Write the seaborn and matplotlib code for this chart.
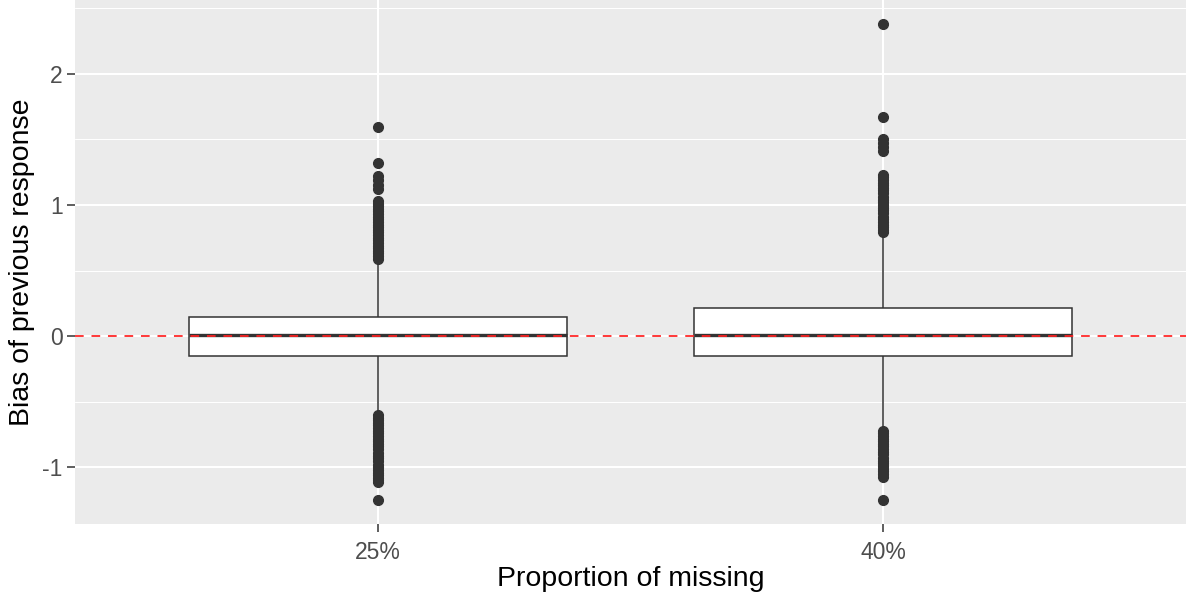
import numpy as np
import pandas as pd
import matplotlib
matplotlib.use("Agg")
import matplotlib.pyplot as plt
from matplotlib.ticker import MultipleLocator, FuncFormatter
import seaborn as sns

# ---- data ----
categories = ["25%", "40%"]
q1 = [-0.152, -0.155]
median = [0.008, 0.005]
q3 = [0.143, 0.215]
whisker_low = [-0.590, -0.700]
whisker_high = [0.580, 0.760]
outliers_high_25 = [0.59, 0.61, 0.63, 0.65, 0.67, 0.69, 0.71, 0.73, 0.75,
                    0.77, 0.79, 0.81, 0.83, 0.85, 0.87, 0.89, 0.91, 0.93,
                    0.95, 0.97, 0.99, 1.01, 1.03, 1.12, 1.15, 1.19, 1.22,
                    1.32, 1.59]
outliers_low_25 = [-0.60, -0.62, -0.64, -0.66, -0.68, -0.70, -0.72, -0.74,
                   -0.76, -0.78, -0.80, -0.82, -0.84, -0.86, -0.89, -0.91,
                   -0.93, -0.95, -0.98, -1.00, -1.02, -1.04, -1.06, -1.08,
                   -1.10, -1.11, -1.25]
outliers_high_40 = [0.79, 0.81, 0.83, 0.85, 0.87, 0.89, 0.91, 0.94, 0.96,
                    0.98, 1.00, 1.02, 1.04, 1.06, 1.09, 1.11, 1.13, 1.15,
                    1.17, 1.19, 1.21, 1.225, 1.41, 1.44, 1.47, 1.505, 1.67,
                    2.38]
outliers_low_40 = [-0.72, -0.74, -0.76, -0.78, -0.80, -0.82, -0.84, -0.86,
                   -0.88, -0.90, -0.93, -0.95, -0.97, -0.99, -1.01, -1.03,
                   -1.05, -1.07, -1.25]

outliers_high = [outliers_high_25, outliers_high_40]
outliers_low = [outliers_low_25, outliers_low_40]

# build a sample per group that reproduces the box statistics
rows = []
for i, cat in enumerate(categories):
    vals = (list(outliers_low[i]) + [whisker_low[i]] + [q1[i]] * 100 +
            [median[i]] * 100 + [q3[i]] * 100 + [whisker_high[i]] +
            list(outliers_high[i]))
    rows += [(cat, v) for v in vals]
df = pd.DataFrame(rows, columns=["prop", "bias"])

# ---- style ----
sns.set_theme(style="darkgrid")
plt.rcParams["font.family"] = ["Liberation Sans", "DejaVu Sans"]

fig = plt.figure(figsize=(11.86, 6.01), dpi=100)
ax = fig.add_axes([75 / 1186, 77 / 601, 1 - 75 / 1186, 1 - 77 / 601])
ax.set_facecolor("#EBEBEB")

dark = "#333333"
sns.boxplot(data=df, x="prop", y="bias", order=categories, ax=ax,
            width=0.75, color="white", linecolor=dark, linewidth=1.1,
            whis=1.5,
            boxprops=dict(facecolor="white", edgecolor=dark, zorder=2),
            medianprops=dict(color=dark, linewidth=2.4, zorder=3),
            whiskerprops=dict(color=dark, linewidth=1.1, zorder=2),
            capprops=dict(linewidth=0),
            flierprops=dict(marker="o", markerfacecolor=dark,
                            markeredgecolor=dark, markersize=7, zorder=3))

ax.axhline(0, color="#FF2020", linestyle=(0, (5, 4.5)), linewidth=1.25,
           zorder=4)

# limits like ggplot's default expansion
lo, hi = df["bias"].min(), df["bias"].max()
pad = (hi - lo) * 0.05
ax.set_ylim(lo - pad, hi + pad)
ax.set_xlim(-0.6, 1.6)

ax.yaxis.set_major_locator(MultipleLocator(1))
ax.yaxis.set_minor_locator(MultipleLocator(0.5))
ax.yaxis.set_major_formatter(FuncFormatter(lambda v, p: f"{v:.0f}"))
ax.grid(which="major", color="white", linewidth=1.5)
ax.grid(which="minor", axis="y", color="white", linewidth=0.75)
ax.set_axisbelow(True)
for s in ax.spines.values():
    s.set_visible(False)

ax.tick_params(axis="both", which="major", length=5.5, width=1.1,
               color=dark, labelcolor="#4D4D4D", labelsize=16.5)
ax.tick_params(axis="x", which="major", pad=6.5)
ax.tick_params(axis="y", which="major", pad=3.5)
ax.tick_params(axis="y", which="minor", length=0)
ax.tick_params(bottom=True, left=True)

ax.set_xlabel("Proportion of missing", fontsize=20.5, color="black", labelpad=2)
ax.set_ylabel("Bias of previous response", fontsize=20.5, color="black",
              labelpad=5)

fig.savefig("out.png", dpi=100)
